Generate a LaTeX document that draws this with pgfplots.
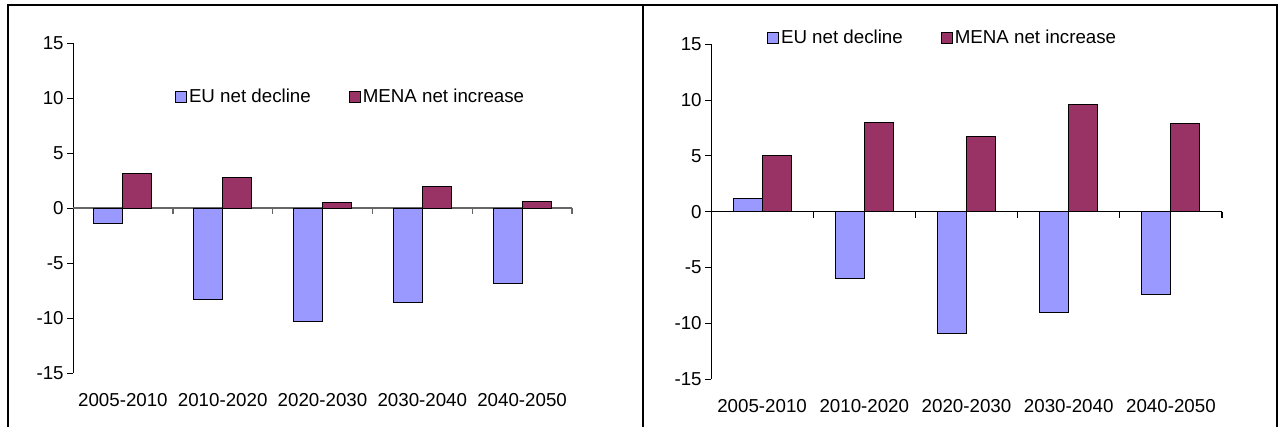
\documentclass[border=0pt]{standalone}
\usepackage{pgfplots}
\pgfplotsset{compat=1.18}
\usepackage{fontspec}
\setmainfont{Liberation Sans}
\definecolor{eu}{HTML}{9999FF}
\definecolor{mena}{HTML}{993366}
\pgfplotsset{
  panel/.style={
    scale only axis,
    anchor=south west,
    ymin=-15, ymax=15,
    ytick={-15,-10,-5,0,5,10,15},
    xmin=-0.5, xmax=4.5,
    xtick={0,1,2,3,4},
    xticklabels={2005-2010,2010-2020,2020-2030,2030-2040,2040-2050},
    separate axis lines,
    axis x line*=bottom,
    axis y line*=left,
    x axis line style={draw=none},
    xtick style={draw=none},
    y axis line style={black, line width=0.5bp},
    ytick style={black, line width=0.5bp},
    tick align=outside,
    major tick length=3bp,
    font=\fontsize{9.4}{11.3}\selectfont,
    /pgf/number format/assume math mode=true,
    yticklabel style={inner sep=1bp, xshift=-0.5bp},
    xticklabel style={yshift=-3.5bp},
    ybar=0pt,
    bar width=14.5bp,
    legend columns=2,
    legend style={draw=none, fill=none, inner sep=0pt, outer sep=0pt, anchor=west,
      font=\fontsize{9.4}{11.3}\selectfont,
      nodes={inner sep=1.2bp},
      /tikz/every even column/.append style={column sep=17.8bp}},
    legend image code/.code={\draw[#1, draw=black, line width=0.4bp] (0bp,-2.7bp) rectangle (5.4bp,2.7bp);},
    clip=false,
  },
  eubar/.style={fill=eu, draw=black, line width=0.5bp},
  menabar/.style={fill=mena, draw=black, line width=0.5bp},
}
\begin{document}
\begin{tikzpicture}
\path[use as bounding box] (0bp,0bp) rectangle (639bp,-213.5bp);
% frames
\draw[line width=1bp] (3.5bp,-2.5bp) -- (639bp,-2.5bp);
\draw[line width=1bp] (4bp,-2.5bp) -- (4bp,-213.5bp);
\draw[line width=1bp] (321.5bp,-2.5bp) -- (321.5bp,-213.5bp);
\draw[line width=1bp] (638.5bp,-2.5bp) -- (638.5bp,-213.5bp);

% left panel
\begin{axis}[panel, at={(36.5bp,-186.5bp)}, width=249.5bp, height=165bp,
  legend style={at={(0.2044,0.836)}}]
\draw[gray!80!black, line width=0.7bp] (axis cs:-0.5,0) -- (axis cs:4.5,0);
\pgfplotsinvokeforeach{0.5,1.5,2.5,3.5,4.5}{\draw[gray!80!black, line width=0.7bp] (axis cs:#1,0) -- ++(0bp,-3bp);}
\addplot[eubar] coordinates {(0,-1.4) (1,-8.3) (2,-10.3) (3,-8.6) (4,-6.9)};
\addplot[menabar] coordinates {(0,3.1) (1,2.8) (2,0.5) (3,2.0) (4,0.6)};
\legend{EU net decline, MENA net increase}
\end{axis}

% right panel
\begin{axis}[panel, at={(355.5bp,-189.6bp)}, width=255.5bp, height=167.5bp,
  legend style={at={(0.1096,1.0185)}}]
\draw[black, line width=0.6bp] (axis cs:-0.5,0) -- (axis cs:4.5,0);
\pgfplotsinvokeforeach{0.5,1.5,2.5,3.5,4.5}{\draw[black, line width=0.6bp] (axis cs:#1,0) -- ++(0bp,-3bp);}
\addplot[eubar] coordinates {(0,1.2) (1,-6.0) (2,-10.9) (3,-9.0) (4,-7.4)};
\addplot[menabar] coordinates {(0,5.0) (1,8.0) (2,6.7) (3,9.6) (4,7.9)};
\legend{EU net decline, MENA net increase}
\end{axis}
\end{tikzpicture}
\end{document}
